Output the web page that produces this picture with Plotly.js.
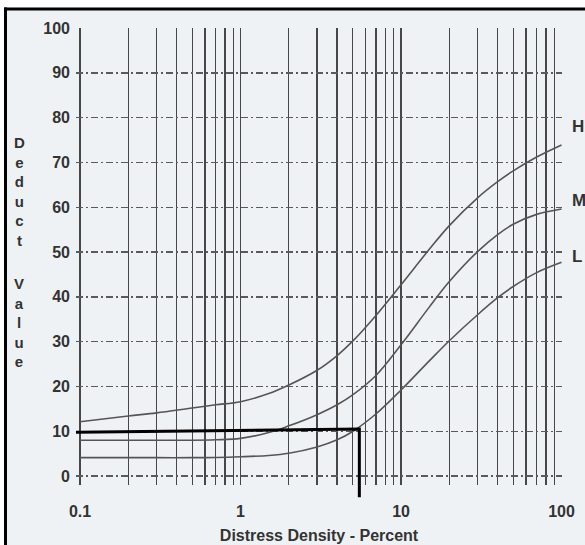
<!DOCTYPE html>
<html>
<head>
<meta charset="utf-8">
<script src="https://cdn.plot.ly/plotly-3.0.1.min.js"></script>
<style>
  html, body { margin: 0; padding: 0; background: #ffffff; }
  #chart { width: 585px; height: 545px; }
</style>
</head>
<body>
<div id="chart"></div>
<script>
// ---- data ----
const xTickVals = [0.1, 1, 10, 100];
const xTickText = ['0.1', '1', '10', '100'];
const xMinorVals = [0.2,0.3,0.4,0.5,0.6,0.7,0.8,0.9, 2,3,4,5,6,7,8,9, 20,30,40,50,60,70,80,90];
const yTickVals = [0, 10, 20, 30, 40, 50, 60, 70, 80, 90, 100];

// distress density (%) sampled for the three severity curves
const xDensity = [0.1, 0.2, 0.3, 0.5, 0.7, 1, 1.5, 2, 3, 4, 5, 7, 10, 15, 20, 30, 40, 50, 70, 100];
const yHigh    = [12.1, 13.4, 14.1, 15.2, 15.9, 16.6, 18.4, 20.3, 23.6, 26.9, 30.1, 35.9, 42.7, 50.6, 55.9, 62.1, 65.7, 68.1, 71.2, 73.9];
const yMedium  = [8, 8, 8, 8, 8.1, 8.4, 9.7, 11.2, 13.7, 15.9, 18.1, 22.5, 29.3, 37.7, 43.4, 50.1, 53.9, 56.2, 58.4, 59.6];
const yLow     = [4.1, 4.1, 4.1, 4.1, 4.15, 4.3, 4.6, 5.1, 6.5, 8.1, 9.95, 13.9, 19.2, 25.7, 30.2, 36.0, 39.8, 42.3, 45.4, 47.7];

// hand-drawn reading line
const refX = [0.0944, 5.5, 5.5];
const refY = [9.8, 10.5, -4.75];

const curveLabels = ['H', 'M', 'L'];
const curveLabelY = [78.1, 61.6, 48.9];

// ---- layout geometry ----
const W = 585, H = 545;
const M = { l: 76, r: 23, t: 28, b: 47 };
const PW = W - M.l - M.r, PH = H - M.t - M.b;
const px = v => (v - M.l) / PW;          // pixel x -> paper
const py = v => (H - M.b - v) / PH;      // pixel y -> paper

const curveLine = { color: '#555555', width: 1.6, shape: 'spline', smoothing: 1 };
const traces = [
  { x: xDensity, y: yHigh,   mode: 'lines', line: curveLine, hoverinfo: 'skip' },
  { x: xDensity, y: yMedium, mode: 'lines', line: curveLine, hoverinfo: 'skip' },
  { x: xDensity, y: yLow,    mode: 'lines', line: curveLine, hoverinfo: 'skip' },
  { x: refX, y: refY, xaxis: 'x2', yaxis: 'y2', mode: 'lines', line: { color: '#000000', width: 3 }, hoverinfo: 'skip' }
];

const FONT = 'Liberation Sans, Arial, sans-serif';
const fontTick = { family: FONT, size: 16, color: '#333333', weight: 'bold' };

const annotations = [
  { xref: 'paper', yref: 'paper', x: px(19), y: py(131.5), xanchor: 'center', yanchor: 'top',
    text: 'D<br>e<br>d<br>u<br>c<br>t', showarrow: false, align: 'center',
    font: { family: FONT, size: 15, color: '#333333', weight: 'bold' } },
  { xref: 'paper', yref: 'paper', x: px(19), y: py(273), xanchor: 'center', yanchor: 'top',
    text: 'V<br>a<br>l<br>u<br>e', showarrow: false, align: 'center',
    font: { family: FONT, size: 15, color: '#333333', weight: 'bold' } }
];
curveLabels.forEach((t, i) => annotations.push({
  xref: 'paper', yref: 'y', x: px(570), y: curveLabelY[i], xanchor: 'left', yanchor: 'middle',
  text: t, showarrow: false,
  font: { family: FONT, size: 17, color: '#333333', weight: 'bold' }
}));

const shapes = [
  // white outside the scanned frame
  { type: 'rect', xref: 'paper', yref: 'paper', x0: px(0), x1: px(W), y0: py(0), y1: py(7.5),
    fillcolor: '#ffffff', line: { width: 0 }, layer: 'above' },
  { type: 'rect', xref: 'paper', yref: 'paper', x0: px(0), x1: px(4), y0: py(0), y1: py(H),
    fillcolor: '#ffffff', line: { width: 0 }, layer: 'above' },
  // black frame (top and left)
  { type: 'rect', xref: 'paper', yref: 'paper', x0: px(4), x1: px(W), y0: py(7.5), y1: py(10.5),
    fillcolor: '#000000', line: { width: 0 }, layer: 'above' },
  { type: 'rect', xref: 'paper', yref: 'paper', x0: px(4), x1: px(7), y0: py(7.5), y1: py(H),
    fillcolor: '#000000', line: { width: 0 }, layer: 'above' }
];

const xRange = [-1.025, 2.003];
const layout = {
  width: W, height: H,
  margin: M,
  paper_bgcolor: '#eff2f5',
  plot_bgcolor: 'rgba(0,0,0,0)',
  showlegend: false,
  xaxis: {
    type: 'log',
    range: xRange,
    anchor: 'y',
    tickmode: 'array', tickvals: xTickVals, ticktext: xTickText,
    ticks: '', showline: false, zeroline: false,
    showgrid: true, gridcolor: '#474747', gridwidth: 1.3,
    minor: { tickmode: 'array', tickvals: xMinorVals, showgrid: true, gridcolor: '#474747', gridwidth: 1.3, ticks: '' },
    tickfont: fontTick,
    ticklabelstandoff: 15,
    title: { text: 'Distress Density - Percent', font: { family: FONT, size: 16, color: '#333333', weight: 'bold' }, standoff: 10 },
    automargin: false,
    fixedrange: true
  },
  yaxis: {
    range: [-2, 100],
    domain: [13 / PH, 1],
    anchor: 'x',
    tickmode: 'array', tickvals: yTickVals,
    ticks: '', showline: false, zeroline: false,
    showgrid: true, gridcolor: '#5a5a5a', gridwidth: 1.4, griddash: '7px,3px,2px,3px',
    tickfont: fontTick,
    ticklabelstandoff: 5,
    automargin: false,
    fixedrange: true
  },
  xaxis2: {
    type: 'log', range: xRange, anchor: 'y2', domain: [0, 1],
    visible: false, showgrid: false, zeroline: false, fixedrange: true
  },
  yaxis2: {
    range: [-4.9, 100], anchor: 'x2', domain: [0, 1],
    visible: false, showgrid: false, zeroline: false, fixedrange: true
  },
  annotations: annotations,
  shapes: shapes
};

Plotly.newPlot('chart', traces, layout, { displayModeBar: false, staticPlot: true });
</script>
</body>
</html>
